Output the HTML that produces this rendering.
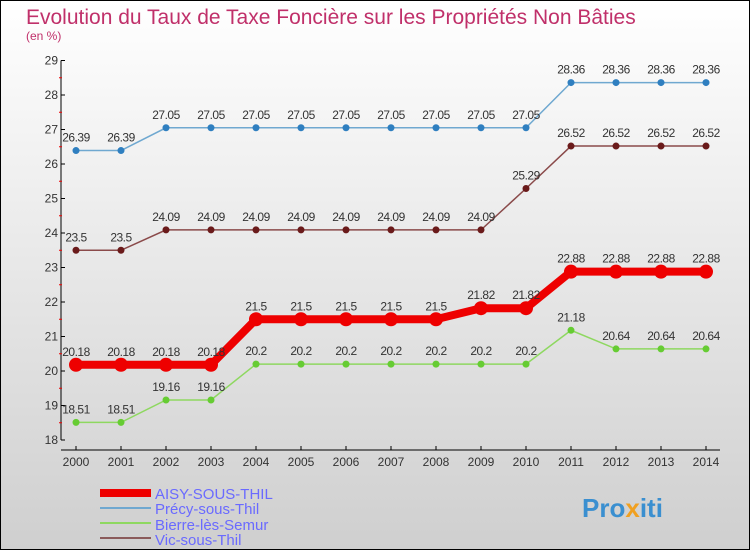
<!DOCTYPE html>
<html><head><meta charset="utf-8"><style>
body{margin:0}
#c{width:750px;height:550px;position:relative;box-sizing:border-box;border:1px solid #000;background:linear-gradient(#ffffff,#cfcfcf);font-family:"Liberation Sans",sans-serif;overflow:hidden}
</style></head><body>
<div id="c">
<svg id="s" width="750" height="550" style="position:absolute;left:-1px;top:-1px">
<text x="26" y="24" font-size="21" fill="#c0306a">Evolution du Taux de Taxe Foncière sur les Propriétés Non Bâties</text>
<text x="26" y="40" font-size="12" fill="#c0306a">(en %)</text>
<g id="axes"></g><g id="series"></g>
<g>
<rect x="100" y="489" width="51" height="8" fill="#e00"/>
<text x="155" y="499" font-size="15" fill="#6a6aff">AISY-SOUS-THIL</text>
<rect x="100" y="507" width="51" height="2" fill="#6fa8d0"/>
<text x="155" y="514" font-size="15" fill="#6a6aff">Précy-sous-Thil</text>
<rect x="100" y="522" width="51" height="2" fill="#8ed860"/>
<text x="155" y="530" font-size="15" fill="#6a6aff">Bierre-lès-Semur</text>
<rect x="100" y="537" width="51" height="2" fill="#8a5a5a"/>
<text x="155" y="545" font-size="15" fill="#6a6aff">Vic-sous-Thil</text>
</g>
<text x="582" y="517" font-size="26" font-weight="bold" fill="#3a8fd0">Pro<tspan fill="#f0a020">x</tspan>iti</text>
</svg>
</div>
<script>
const years=[2000,2001,2002,2003,2004,2005,2006,2007,2008,2009,2010,2011,2012,2013,2014];
const yTicks=[18,19,20,21,22,23,24,25,26,27,28,29];
const aisy=[20.18,20.18,20.18,20.18,21.5,21.5,21.5,21.5,21.5,21.82,21.82,22.88,22.88,22.88,22.88];
const precy=[26.39,26.39,27.05,27.05,27.05,27.05,27.05,27.05,27.05,27.05,27.05,28.36,28.36,28.36,28.36];
const bierre=[18.51,18.51,19.16,19.16,20.2,20.2,20.2,20.2,20.2,20.2,20.2,21.18,20.64,20.64,20.64];
const vic=[23.5,23.5,24.09,24.09,24.09,24.09,24.09,24.09,24.09,24.09,25.29,26.52,26.52,26.52,26.52];
const NS="http://www.w3.org/2000/svg";
const X=i=>76+i*45, Y=v=>440-(v-18)*34.5;
function mk(t,a,p){const e=document.createElementNS(NS,t);for(const k in a)e.setAttribute(k,a[k]);p.appendChild(e);return e;}
const ax=document.getElementById('axes');
let yl=mk('line',{x1:61,y1:Y(29),x2:61,y2:Y(18),stroke:'#000','stroke-width':1},ax);


let xl=mk('line',{x1:61,y1:450,x2:720,y2:450,stroke:'#000','stroke-width':1},ax);


yTicks.forEach((v,i)=>{
 mk('line',{x1:61,y1:Y(v),x2:65,y2:Y(v),stroke:'#000'},ax);
 if(i<yTicks.length-1) mk('line',{x1:59,y1:Y(v+0.5),x2:62,y2:Y(v+0.5),stroke:'#e00'},ax);
 const t=mk('text',{x:58,y:Y(v)+4,'text-anchor':'end','font-size':12,fill:'#333'},ax);t.textContent=v;
 
 
});
years.forEach((y,i)=>{
 mk('line',{x1:X(i),y1:446,x2:X(i),y2:450,stroke:'#000'},ax);
 const t=mk('text',{x:X(i),y:466,'text-anchor':'middle','font-size':12,fill:'#333'},ax);t.textContent=y;
 
 
});
const sg=document.getElementById('series');
function draw(vals,color,dot,lw,r,name){
 const g=mk('g',{},sg);
 
 
 mk('polyline',{points:vals.map((v,i)=>X(i)+','+Y(v)).join(' '),fill:'none',stroke:color,'stroke-width':lw},g);
 vals.forEach((v,i)=>{
  const c=mk('circle',{cx:X(i),cy:Y(v),r:r,fill:dot},g);
  
  
  const t=mk('text',{x:X(i),y:Y(v)-9,'text-anchor':'middle','font-size':12,fill:'#333','letter-spacing':'-0.5'},g);t.textContent=v;
  
  
 });
}
draw(precy,'#6fa8d0','#2f7fc0',1.5,3.5,'series-precy');
draw(vic,'#8a4a4a','#6a1a1a',1.5,3.5,'series-vic');
draw(bierre,'#8ed860','#66cc33',1.5,3.5,'series-bierre');
draw(aisy,'#e00','#e00',8,7,'series-aisy');
</script>
</body></html>
